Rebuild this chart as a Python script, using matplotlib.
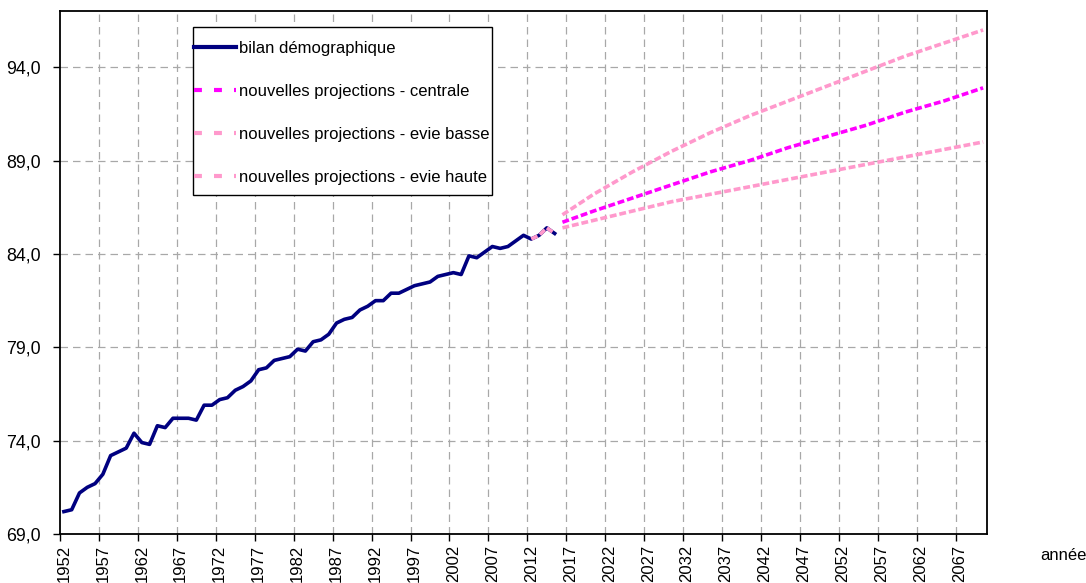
import matplotlib
matplotlib.use("Agg")
import matplotlib.pyplot as plt
from matplotlib.lines import Line2D
from matplotlib.patches import Rectangle
import numpy as np

plt.rcParams['font.family'] = ['Liberation Sans', 'DejaVu Sans']

# observed life expectancy (bilan démographique)
hist_years = list(range(1952, 2016))
hist_values = [70.2, 70.3, 71.2, 71.5, 71.7, 72.2, 73.2, 73.4, 73.6, 74.4,
               73.9, 73.8, 74.8, 74.7, 75.2, 75.2, 75.2, 75.1, 75.9, 75.9,
               76.2, 76.3, 76.7, 76.9, 77.2, 77.8, 77.9, 78.3, 78.4, 78.5,
               78.9, 78.8, 79.3, 79.4, 79.7, 80.3, 80.5, 80.6, 81.0, 81.2,
               81.5, 81.5, 81.9, 81.9, 82.1, 82.3, 82.4, 82.5, 82.8, 82.9,
               83.0, 82.9, 83.9, 83.8, 84.1, 84.4, 84.3, 84.4, 84.7, 85.0,
               84.8, 85.0, 85.4, 85.1]

# observed part repeated in the projection series
overlap_years = [2012, 2013, 2014, 2015]
overlap_values = [84.8, 85.0, 85.4, 85.1]

proj_years = [2016, 2020, 2025, 2030, 2035, 2040, 2045, 2050, 2055, 2060, 2065, 2070]
central = [85.7, 86.3, 87.0, 87.7, 88.4, 89.0, 89.7, 90.3, 90.9, 91.6, 92.2, 92.9]
evie_basse = [85.4, 85.8, 86.3, 86.8, 87.2, 87.6, 88.0, 88.4, 88.8, 89.2, 89.6, 90.0]
evie_haute = [86.1, 87.2, 88.4, 89.5, 90.5, 91.4, 92.2, 93.0, 93.8, 94.6, 95.3, 96.0]

label_years = list(range(1952, 2068, 5))
y_ticks = [69, 74, 79, 84, 89, 94]

labels = ["bilan démographique",
          "nouvelles projections - centrale",
          "nouvelles projections - evie basse",
          "nouvelles projections - evie haute"]

navy = "#000080"
magenta = "#FF00FF"
pink = "#FF99CC"
FS = 12

fig = plt.figure(figsize=(10.86, 5.83), dpi=100)
ax = fig.add_axes([60/1086, 1 - 534/583, 927/1086, (534 - 11.3)/583])

ax.set_xlim(1951.5, 2070.5)
ax.set_ylim(69, 97)

lw = 2.6
dash = (0, (1.9, 0.8))
ax.plot(hist_years, hist_values, color=navy, lw=lw, solid_joinstyle='round', zorder=3)
ax.plot(overlap_years, overlap_values, color=pink, lw=lw, ls=dash, zorder=4)
ax.plot(proj_years, evie_haute, color=pink, lw=lw, ls=dash, zorder=4)
ax.plot(proj_years, evie_basse, color=pink, lw=lw, ls=dash, zorder=4)
ax.plot(proj_years, central, color=magenta, lw=lw, ls=dash, zorder=5)

# grid
grid_x = [y - 0.5 for y in label_years[1:]]
for gx in grid_x:
    ax.axvline(gx, color="#a8a8a8", lw=0.9, ls=(0, (6, 4)), zorder=1)
for gy in y_ticks[1:]:
    ax.axhline(gy, color="#a8a8a8", lw=0.9, ls=(0, (6, 4)), zorder=1)

# ticks
ax.set_xticks([y - 0.5 for y in label_years])
ax.set_xticklabels([])
ax.tick_params(axis='x', which='major', direction='out', length=5, width=1, color='black')
ax.set_xticks(label_years, minor=True)
ax.set_xticklabels([str(y) for y in label_years], minor=True, rotation=90, fontsize=FS)
ax.tick_params(axis='x', which='minor', length=0, pad=8)

ax.set_yticks(y_ticks)
ax.set_yticklabels([f"{v:.1f}".replace('.', ',') for v in y_ticks], fontsize=12.8)
ax.tick_params(axis='y', direction='out', length=5, width=1, pad=9)

for s in ax.spines.values():
    s.set_color('black')
    s.set_linewidth(1.3)

fig.text(1063/1086, 1 - 555/583, "année", ha='center', va='center', fontsize=FS)

# legend frame (drawn manually, Excel-like)
def ax_x(px):
    return (px - 60) / 927
def ax_y(py):
    return (534 - py) / 522.7

frame = Rectangle((ax_x(193), ax_y(195)), ax_x(492) - ax_x(193), ax_y(27) - ax_y(195),
                  transform=ax.transAxes, facecolor='white', edgecolor='black',
                  lw=1.0, zorder=9)
ax.add_patch(frame)

handles = [Line2D([], [], color=navy, lw=3),
           Line2D([], [], color=magenta, lw=3, ls=(0, (1.9, 2.9))),
           Line2D([], [], color=pink, lw=3, ls=(0, (1.9, 2.9))),
           Line2D([], [], color=pink, lw=3, ls=(0, (1.9, 2.9)))]
leg = ax.legend(handles, labels, loc='upper left',
                bbox_to_anchor=(ax_x(194), ax_y(41)),
                borderaxespad=0, borderpad=0, frameon=False, fontsize=FS,
                handlelength=2.5, handletextpad=0.2, labelspacing=1.68)
leg.set_zorder(10)

fig.savefig("out.png", dpi=100)
